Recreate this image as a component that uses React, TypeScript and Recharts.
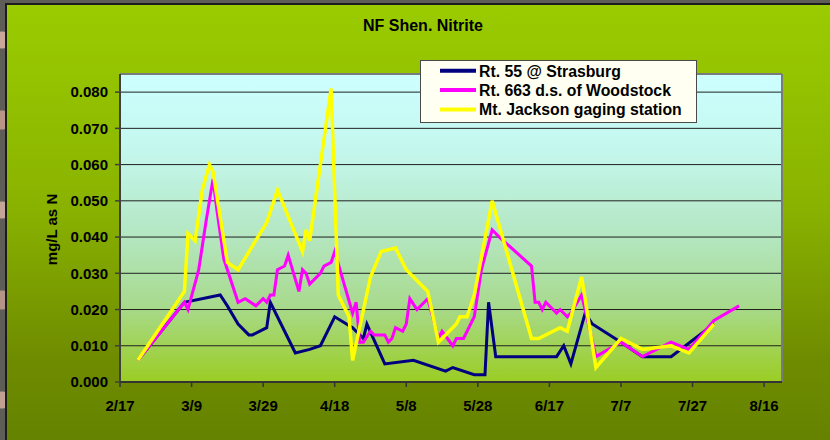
import React from "react";
import { LineChart, Line, XAxis, YAxis, CartesianGrid, ReferenceLine } from "recharts";

// ---------- data ----------
const chartTitle = "NF Shen. Nitrite";
const yAxisTitle = "mg/L as N";
const xTickLabels = ["2/17", "3/9", "3/29", "4/18", "5/8", "5/28", "6/17", "7/7", "7/27", "8/16"];
const xAxisEnd = "8/21";
const yTickValues = [0, 0.01, 0.02, 0.03, 0.04, 0.05, 0.06, 0.07, 0.08];
const yAxisMax = 0.085;

const seriesNames = ["Rt. 55 @ Strasburg", "Rt. 663 d.s. of Woodstock", "Mt. Jackson gaging station"];

const strasburgDates = [
  "2/22", "3/7", "3/17", "3/19", "3/22", "3/25", "3/26", "3/30", "3/31", "4/4",
  "4/7", "4/11", "4/14", "4/18", "4/23", "4/26", "4/27", "5/2", "5/10", "5/19",
  "5/21", "5/27", "5/30", "5/31", "6/2", "6/19", "6/21", "6/23", "6/27", "6/29",
  "7/7", "7/13", "7/21", "8/2",
];
const strasburgValues = [
  0.006, 0.022, 0.024, 0.021, 0.016, 0.013, 0.013, 0.015, 0.022, 0.014,
  0.008, 0.009, 0.010, 0.018, 0.015, 0.012, 0.016, 0.005, 0.006, 0.003,
  0.004, 0.002, 0.002, 0.022, 0.007, 0.007, 0.010, 0.005, 0.019, 0.016,
  0.011, 0.007, 0.007, 0.016,
];

const woodstockDates = [
  "2/22", "3/7", "3/8", "3/11", "3/13", "3/15", "3/16", "3/18", "3/22", "3/24",
  "3/27", "3/29", "3/30", "3/31", "4/1", "4/2", "4/4", "4/5", "4/8", "4/9",
  "4/10", "4/11", "4/14", "4/15", "4/17", "4/18", "4/23", "4/24", "4/25", "4/26",
  "4/28", "4/29", "5/2", "5/3", "5/4", "5/5", "5/7", "5/8", "5/9", "5/11",
  "5/14", "5/17", "5/18", "5/21", "5/22", "5/24", "5/25", "5/27", "5/29", "6/1",
  "6/3", "6/12", "6/13", "6/14", "6/15", "6/16", "6/19", "6/20", "6/22", "6/23",
  "6/26", "6/30", "7/7", "7/13", "7/21", "7/26", "8/2", "8/9",
];
const woodstockValues = [
  0.006, 0.022, 0.020, 0.031, 0.044, 0.056, 0.048, 0.034, 0.022, 0.023,
  0.021, 0.023, 0.022, 0.024, 0.024, 0.031, 0.032, 0.035, 0.025, 0.031,
  0.030, 0.027, 0.030, 0.032, 0.033, 0.036, 0.019, 0.022, 0.011, 0.011,
  0.014, 0.013, 0.013, 0.011, 0.012, 0.015, 0.014, 0.016, 0.023, 0.020,
  0.023, 0.012, 0.014, 0.010, 0.012, 0.012, 0.014, 0.018, 0.031, 0.042,
  0.040, 0.032, 0.022, 0.022, 0.020, 0.022, 0.019, 0.020, 0.018, 0.019,
  0.024, 0.007, 0.011, 0.007, 0.011, 0.009, 0.017, 0.021,
];

const jacksonDates = [
  "2/22", "3/7", "3/8", "3/10", "3/12", "3/14", "3/15", "3/19", "3/22", "3/30",
  "4/2", "4/9", "4/10", "4/11", "4/17", "4/19", "4/22", "4/23", "4/28", "5/1",
  "5/5", "5/8", "5/14", "5/17", "5/22", "5/23", "5/25", "5/27", "6/1", "6/12",
  "6/14", "6/20", "6/22", "6/26", "6/30", "7/7", "7/13", "7/21", "7/26", "8/2",
];
const jacksonValues = [
  0.006, 0.025, 0.041, 0.039, 0.053, 0.060, 0.058, 0.033, 0.031, 0.044,
  0.053, 0.036, 0.042, 0.039, 0.081, 0.024, 0.018, 0.006, 0.029, 0.036,
  0.037, 0.031, 0.025, 0.011, 0.016, 0.018, 0.018, 0.024, 0.050, 0.012,
  0.012, 0.015, 0.014, 0.029, 0.004, 0.012, 0.009, 0.010, 0.008, 0.016,
];

// ---------- helpers ----------
const CUMULATIVE_DAYS = [0, 31, 59, 90, 120, 151, 181, 212, 243, 273, 304, 334];
const dayOfYear = (s: string) => {
  const [m, d] = s.split("/").map(Number);
  return CUMULATIVE_DAYS[m - 1] + d;
};
const startDay = dayOfYear(xTickLabels[0]);
const dayIndex = (s: string) => dayOfYear(s) - startDay;
const toSeries = (dates: string[], vals: number[]) =>
  dates.map((d, i) => ({ day: dayIndex(d), v: vals[i] }));

const strasburg = toSeries(strasburgDates, strasburgValues);
const woodstock = toSeries(woodstockDates, woodstockValues);
const jackson = toSeries(jacksonDates, jacksonValues);
const xTicks = xTickLabels.map(dayIndex);
const xMax = dayIndex(xAxisEnd);

const COLORS = ["#000080", "#FF00FF", "#FFFF00"];
const FONT = "'Liberation Sans', Arial, Helvetica, sans-serif";

const tickStyle = { fill: "#000", fontSize: 15, fontWeight: 700, fontFamily: FONT };

export default function App() {
  return (
    <div
      style={{
        position: "absolute",
        left: 0,
        top: 0,
        width: 830,
        height: 440,
        overflow: "hidden",
        background:
          "radial-gradient(circle at 2px 40px, #c9a89a 0 8px, transparent 9px), radial-gradient(circle at 2px 120px, #b89585 0 9px, transparent 10px), radial-gradient(circle at 2px 210px, #c4a597 0 8px, transparent 9px), radial-gradient(circle at 2px 300px, #b39486 0 9px, transparent 10px), radial-gradient(circle at 2px 400px, #c0a090 0 8px, transparent 9px), #5e5d58",
      }}
    >
      {/* green panel */}
      <div
        style={{
          position: "absolute",
          left: 5,
          top: 3,
          width: 830,
          height: 440,
          borderLeft: "2px solid #1c1c1c",
          borderTop: "2px solid #1c1c1c",
          background: "linear-gradient(to bottom, #9acc00 0%, #8ab300 45%, #6f8c00 80%, #648200 100%)",
        }}
      />
      {/* plot area background */}
      <div
        style={{
          position: "absolute",
          left: 120,
          top: 74,
          width: 662,
          height: 308,
          background:
            "linear-gradient(to bottom, #ccffff 0%, #c4f7ec 25%, #b5e8c6 50%, #a8da8e 75%, #9bcd24 100%)",
        }}
      />
      <div style={{ position: "absolute", left: 0, top: 0 }}>
        <LineChart width={830} height={440} margin={{ top: 74, right: 48, bottom: 18, left: 0 }}>
          <CartesianGrid vertical={false} horizontal stroke="#202020" strokeWidth={1} fill="none" />
          <XAxis
            dataKey="day"
            type="number"
            domain={[0, xMax]}
            ticks={xTicks}
            interval={0}
            height={40}
            tickFormatter={(v: number) => xTickLabels[xTicks.indexOf(v)] ?? ""}
            tick={tickStyle}
            tickSize={5}
            tickMargin={13}
            axisLine={{ stroke: "#333", strokeWidth: 2 }}
            tickLine={{ stroke: "#333", strokeWidth: 1.5 }}
            allowDataOverflow
          />
          <YAxis
            type="number"
            domain={[0, yAxisMax]}
            ticks={yTickValues}
            interval={0}
            width={120}
            tickFormatter={(v: number) => v.toFixed(3)}
            tick={tickStyle}
            tickSize={5}
            tickMargin={7}
            axisLine={{ stroke: "#404040", strokeWidth: 2 }}
            tickLine={{ stroke: "#404040", strokeWidth: 1.5 }}
            allowDataOverflow
          />
          <ReferenceLine y={yAxisMax} stroke="#7a7a7a" strokeWidth={2} />
          <ReferenceLine x={xMax} stroke="#7a7a7a" strokeWidth={2} />
          <Line
            data={strasburg}
            dataKey="v"
            name={seriesNames[0]}
            type="linear"
            stroke={COLORS[0]}
            strokeWidth={3}
            dot={false}
            isAnimationActive={false}
          />
          <Line
            data={woodstock}
            dataKey="v"
            name={seriesNames[1]}
            type="linear"
            stroke={COLORS[1]}
            strokeWidth={3}
            dot={false}
            isAnimationActive={false}
          />
          <Line
            data={jackson}
            dataKey="v"
            name={seriesNames[2]}
            type="linear"
            stroke={COLORS[2]}
            strokeWidth={3.5}
            dot={false}
            isAnimationActive={false}
          />
        </LineChart>
      </div>
      {/* text overlay: title, axis title, legend */}
      <svg
        width={830}
        height={440}
        style={{ position: "absolute", left: 0, top: 0, pointerEvents: "none" }}
        fontFamily={FONT}
      >
        <text x={423} y={31} textAnchor="middle" fontSize={16} fontWeight={700} fill="#000">
          {chartTitle}
        </text>
        <text
          transform="translate(57,229.5) rotate(-90)"
          textAnchor="middle"
          fontSize={15}
          fontWeight={700}
          fill="#000"
        >
          {yAxisTitle}
        </text>
        <rect x={420.5} y={60.5} width={276} height={62} fill="#fffff2" stroke="#4a4a4a" strokeWidth={1} />
        {seriesNames.map((name, i) => {
          const ly = [70.7, 90, 109.5][i];
          return (
            <g key={name}>
              <line x1={440} x2={476} y1={ly} y2={ly} stroke={COLORS[i]} strokeWidth={4} />
              <text x={479} y={ly + 5.8} fontSize={15.8} fontWeight={700} fill="#000">
                {name}
              </text>
            </g>
          );
        })}
      </svg>
    </div>
  );
}
